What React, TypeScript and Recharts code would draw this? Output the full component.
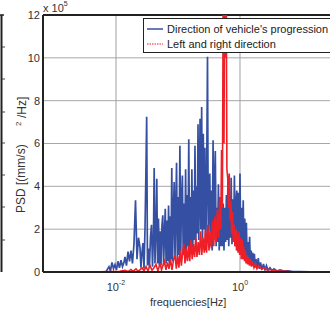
import { LineChart, Line, XAxis, YAxis, CartesianGrid, ReferenceLine } from "recharts";

// log10 of frequency [Hz] and PSD values (x 10^5 (mm/s)^2/Hz)
const blueLogFreq = [
  -3.177, -2.161, -2.113, -2.089, -2.065, -2.04, -2.016, -1.992, -1.968, -1.944, -1.919, -1.895,
  -1.871, -1.855, -1.831, -1.806, -1.782, -1.758, -1.734, -1.71, -1.685, -1.661, -1.637,
  -1.613, -1.597, -1.581, -1.565, -1.548, -1.532, -1.516, -1.505, -1.492, -1.476, -1.46, -1.444,
  -1.427, -1.411, -1.395, -1.384, -1.371, -1.355, -1.342, -1.329, -1.315, -1.3, -1.287, -1.274,
  -1.258, -1.245, -1.232, -1.218, -1.205, -1.192, -1.177, -1.165, -1.152, -1.139, -1.126, -1.113,
  -1.1, -1.087, -1.074, -1.061, -1.048, -1.035, -1.023, -1.01, -0.997, -0.984, -0.969, -0.956,
  -0.944, -0.929, -0.916, -0.903, -0.89, -0.877, -0.865, -0.852, -0.839, -0.826, -0.813, -0.8,
  -0.787, -0.776, -0.763, -0.75, -0.737, -0.726, -0.713, -0.7, -0.689, -0.677, -0.665, -0.653,
  -0.644, -0.631, -0.618, -0.605, -0.592, -0.579, -0.566, -0.553, -0.54, -0.524, -0.511, -0.498,
  -0.487, -0.474, -0.461, -0.448, -0.434, -0.421, -0.41, -0.398, -0.385, -0.373, -0.361, -0.348,
  -0.335, -0.323, -0.31, -0.297, -0.284, -0.271, -0.258, -0.245, -0.232, -0.219, -0.206, -0.194,
  -0.181, -0.168, -0.155, -0.142, -0.129, -0.116, -0.103, -0.09, -0.077, -0.065, -0.052, -0.039,
  -0.026, -0.013, 0, 0.013, 0.026, 0.039, 0.052, 0.065, 0.077, 0.09, 0.103, 0.116,
  0.129, 0.142, 0.155, 0.168, 0.181, 0.194, 0.206, 0.219, 0.232, 0.245, 0.258, 0.274,
  0.295, 0.311, 0.331, 0.355, 0.379, 0.403, 0.427, 0.452, 0.484, 0.516, 0.548, 0.597,
  0.645, 0.71, 0.774, 0.855, 0.968, 1.129, 1.452,
];
const bluePsd = [
  0, 0.02, 0.25, 0.05, 0.45, 0.15, 0.35, 0.1, 0.5, 0.2, 0.55, 0.25,
  0.45, 0.7, 0.3, 0.95, 0.5, 1.0, 0.4, 1.3, 3.35, 0.6, 1.6,
  1.15, 0.2, 0.9, 1.35, 0.15, 2.0, 4.9, 7.25, 0.3, 1.1, 0.2, 1.6,
  2.2, 0.25, 1.8, 4.85, 0.4, 2.0, 4.35, 0.4, 2.5, 0.3, 1.9, 0.3,
  2.2, 2.65, 0.3, 1.8, 2.95, 0.4, 2.4, 0.5, 3.1, 0.4, 2.6, 0.6,
  4.85, 0.5, 2.8, 4.2, 0.6, 3.0, 5.1, 0.5, 3.5, 0.8, 5.9, 0.6,
  3.3, 4.5, 0.8, 3.2, 1.0, 4.8, 0.9, 3.6, 1.2, 6.2, 1.0, 3.5,
  1.4, 4.8, 0.8, 3.8, 1.5, 5.9, 1.2, 4.0, 1.8, 6.9, 1.5, 4.2,
  7.15, 2.0, 7.7, 1.2, 6.45, 2.0, 5.8, 1.0, 3.4, 10.05, 1.5, 3.5,
  4.6, 1.2, 3.8, 1.0, 6.15, 1.5, 4.0, 5.65, 1.2, 3.0, 1.4, 4.1,
  1.0, 2.8, 1.2, 3.5, 1.2, 3.2, 1.0, 3.0, 1.4, 3.6, 1.5, 4.45,
  1.2, 3.5, 1.6, 4.4, 1.3, 3.4, 1.5, 4.5, 1.2, 3.2, 3.8, 1.0,
  3.7, 1.3, 4.6, 1.0, 3.0, 0.9, 3.35, 0.7, 2.5, 0.6, 2.3, 0.5,
  1.4, 0.4, 1.65, 0.35, 1.0, 0.3, 0.9, 0.25, 0.85, 0.2, 0.6, 0.2,
  0.65, 0.15, 0.45, 0.12, 0.38, 0.1, 0.3, 0.08, 0.2, 0.06, 0.15, 0.05,
  0.1, 0.04, 0.05, 0.02, 0.02, 0.01, 0,
];

const redLogFreq = [
  -3.177, -2.258, -1.935, -1.855, -1.806, -1.758, -1.726, -1.677, -1.645, -1.613, -1.581, -1.548,
  -1.516, -1.484, -1.452, -1.419, -1.387, -1.355, -1.323, -1.29, -1.266, -1.242, -1.218, -1.194,
  -1.169, -1.145, -1.121, -1.097, -1.073, -1.048, -1.027, -1.006, -0.985, -0.965, -0.945, -0.926,
  -0.906, -0.887, -0.868, -0.848, -0.829, -0.81, -0.79, -0.771, -0.752, -0.732, -0.713, -0.694,
  -0.674, -0.655, -0.635, -0.616, -0.597, -0.577, -0.558, -0.539, -0.519, -0.5, -0.481, -0.461,
  -0.442, -0.423, -0.403, -0.384, -0.365, -0.345, -0.326, -0.31, -0.297, -0.284, -0.271, -0.258,
  -0.247, -0.235, -0.224, -0.211, -0.198, -0.185, -0.173, -0.16, -0.147, -0.134, -0.121, -0.108,
  -0.095, -0.082, -0.069, -0.056, -0.044, -0.031, -0.018, -0.005, 0.008, 0.021, 0.034, 0.047,
  0.06, 0.073, 0.085, 0.098, 0.111, 0.124, 0.137, 0.153, 0.169, 0.185, 0.202, 0.226,
  0.25, 0.274, 0.306, 0.35, 0.387, 0.435, 0.484, 0.548, 0.645, 0.806, 0.968, 1.452,
];
const redPsd = [
  0, 0.01, 0.03, 0.08, 0.02, 0.12, 0.03, 0.15, 0.04, 0.1, 0.2, 0.05,
  0.25, 0.05, 0.3, 0.08, 0.2, 0.35, 0.05, 0.4, 0.1, 0.3, 0.5, 0.1,
  0.45, 0.15, 0.6, 0.1, 0.55, 0.8, 0.15, 0.75, 0.2, 1.0, 0.3, 0.9,
  1.3, 0.4, 1.1, 0.5, 1.25, 0.5, 1.5, 0.6, 1.3, 0.7, 1.6, 0.7,
  1.4, 0.8, 1.9, 0.8, 1.6, 0.9, 2.0, 0.9, 2.2, 1.0, 1.9, 1.1,
  2.4, 1.2, 2.6, 1.4, 2.9, 1.6, 3.5, 2.0, 5.7, 3.0, 13, 6.0,
  14, 10, 15, 4.8, 4.4, 3.0, 4.6, 2.4, 3.3, 1.8, 2.8, 1.4,
  2.2, 1.2, 2.0, 1.0, 1.8, 0.9, 1.9, 0.8, 1.6, 0.6, 1.5, 0.6,
  1.2, 0.5, 1.0, 0.4, 0.8, 0.35, 0.7, 0.3, 0.6, 0.25, 0.5, 0.2,
  0.4, 0.15, 0.3, 0.12, 0.2, 0.1, 0.12, 0.06, 0.05, 0.02, 0.01, 0,
];

const seriesNames = ["Direction of vehicle's progression", "Left and right direction"];
const seriesColors = ["#3550a3", "#ee1f26"];
const yTicks = [0, 2, 4, 6, 8, 10, 12];
const gridYTicks = [2, 4, 6, 8, 10];
const xTicks = [0.01, 1];
const xTickExp = ["-2", "0"];

const blueData = blueLogFreq.map((e, i) => ({ f: Math.pow(10, e), v: bluePsd[i] }));
const redData = redLogFreq.map((e, i) => ({ f: Math.pow(10, e), v: redPsd[i] }));

const FONT = "'Liberation Sans', Arial, sans-serif";

function XTick(props: any) {
  const { x, y, payload } = props;
  const idx = xTicks.indexOf(payload.value);
  return (
    <text x={x} y={y + 17} textAnchor="middle" fontSize={11} fill="#333" fontFamily={FONT}>
      <tspan>10</tspan>
      <tspan dy={-6} fontSize={7}>{xTickExp[idx]}</tspan>
    </text>
  );
}

export default function App() {
  return (
    <div
      style={{
        position: "fixed",
        left: 0,
        top: 0,
        width: 330,
        height: 311,
        overflow: "hidden",
        background: "#fff",
        fontFamily: FONT,
      }}
    >
      <LineChart width={330} height={311} margin={{ top: 15, right: 0, bottom: 0, left: 0 }}>
        <XAxis
          dataKey="f"
          type="number"
          scale="log"
          domain={[0.000665, 28.3]}
          allowDataOverflow
          ticks={xTicks}
          tick={<XTick />}
          tickLine={false}
          tickSize={0}
          height={39}
          axisLine={{ stroke: "#222", strokeWidth: 2 }}
        />
        <YAxis
          type="number"
          domain={[0, 12]}
          allowDataOverflow
          ticks={yTicks}
          tickLine={false}
          tickSize={0}
          tickMargin={3}
          width={43}
          axisLine={{ stroke: "#222", strokeWidth: 2 }}
          tick={{ fontSize: 11, fill: "#333", fontFamily: FONT }}
        />
        {gridYTicks.map((v) => (
          <ReferenceLine key={`gy${v}`} y={v} stroke="#a8a8a8" strokeWidth={1} />
        ))}
        {xTicks.map((v) => (
          <ReferenceLine key={`gx${v}`} x={v} stroke="#a0a0a0" strokeWidth={1} />
        ))}
        <ReferenceLine y={12} stroke="#222" strokeWidth={2} />
        <Line
          data={blueData}
          dataKey="v"
          type="linear"
          stroke={seriesColors[0]}
          strokeWidth={1.7}
          dot={false}
          activeDot={false}
          isAnimationActive={false}
        />
        <Line
          data={redData}
          dataKey="v"
          type="linear"
          stroke={seriesColors[1]}
          strokeWidth={1.6}
          dot={false}
          activeDot={false}
          isAnimationActive={false}
        />
      </LineChart>

      {/* axis texts and the edge of the neighbouring panel */}
      <svg
        width={330}
        height={311}
        style={{ position: "absolute", left: 0, top: 0, pointerEvents: "none" }}
        fontFamily={FONT}
      >
        <line x1={1.5} y1={15} x2={1.5} y2={272} stroke="#222" strokeWidth={2} />
        <line x1={0} y1={15} x2={4} y2={15} stroke="#222" strokeWidth={1.5} />
        {[47, 79, 112, 143, 175, 207, 240].map((y) => (
          <line key={y} x1={2} y1={y} x2={5} y2={y} stroke="#444" strokeWidth={1} />
        ))}
        <text x={43} y={12} fontSize={11} fill="#333">
          <tspan>x 10</tspan>
          <tspan dy={-6} fontSize={7}>5</tspan>
        </text>
        <text transform="translate(25,213) rotate(-90)" fontSize={12} fill="#333">
          PSD [(mm/s)
        </text>
        <text transform="translate(21,126) rotate(-90)" fontSize={8} fill="#333">
          2
        </text>
        <text transform="translate(26,118) rotate(-90)" fontSize={12} fill="#333">
          /Hz]
        </text>
        <text x={150} y={306} fontSize={11} fill="#333">
          frequencies[Hz]
        </text>
      </svg>

      <div
        style={{
          position: "absolute",
          left: 143,
          top: 18,
          width: 200,
          height: 33,
          border: "1.5px solid #222",
          background: "#fff",
          fontSize: 11,
          color: "#222",
        }}
      >
        {seriesNames.map((name, i) => (
          <div
            key={name}
            style={{ position: "absolute", left: 2, top: 3 + i * 15, height: 14, display: "flex", alignItems: "center" }}
          >
            <svg width={18} height={4} style={{ marginRight: 3 }}>
              <line
                x1={1}
                y1={2}
                x2={17}
                y2={2}
                stroke={seriesColors[i]}
                strokeWidth={i === 0 ? 1.5 : 1}
                strokeDasharray={i === 0 ? undefined : "1.5 1"}
              />
            </svg>
            <span style={{ whiteSpace: "nowrap" }}>{name}</span>
          </div>
        ))}
      </div>
    </div>
  );
}
